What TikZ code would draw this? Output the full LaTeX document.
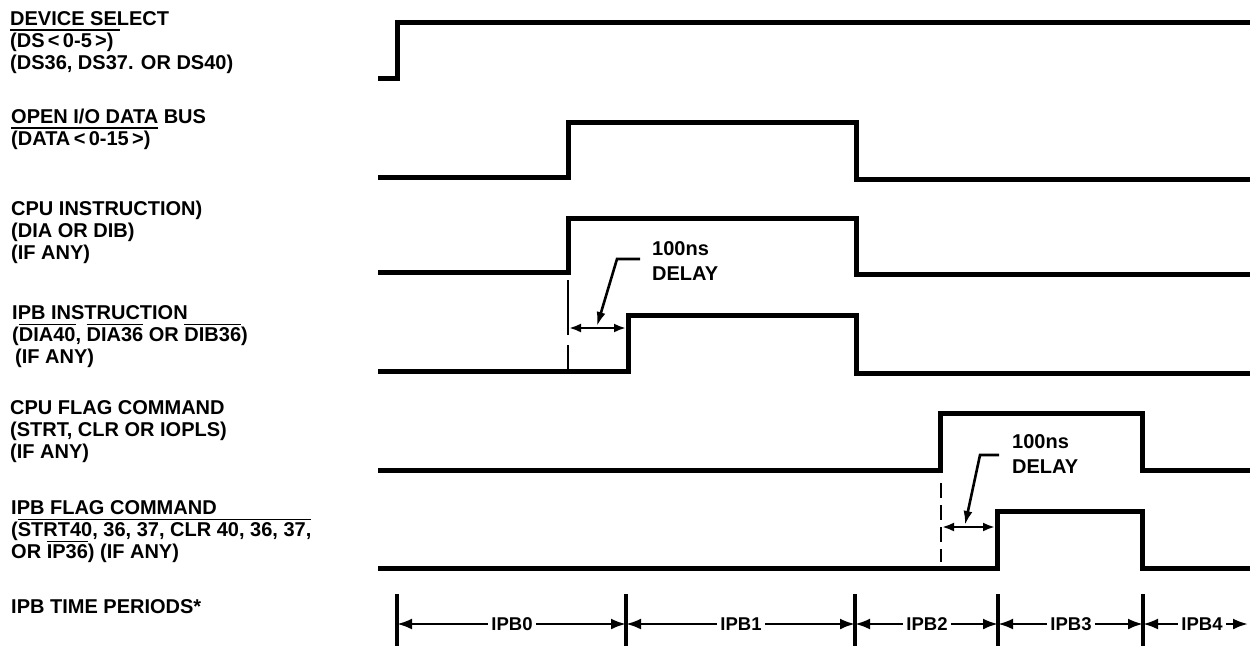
\documentclass[tikz,border=0pt]{standalone}
\usepackage{fontspec}
\setmainfont{Liberation Sans}
\usetikzlibrary{arrows.meta}
\newcommand\ovl[1]{\leavevmode\vbox{\hrule height 1.7pt\kern 1.6pt\hbox{#1}}}
\begin{document}
\begin{tikzpicture}[x=1pt,y=-1pt,
  lbl/.style={anchor=base west, inner sep=0pt, align=left,
    font=\fontsize{20}{22}\selectfont\bfseries},
  dlbl/.style={anchor=base west, inner sep=0pt, align=left,
    font=\fontsize{20}{24.5}\selectfont\bfseries},
  plbl/.style={inner sep=3pt, font=\fontsize{18.5}{20}\selectfont\bfseries},
  sig/.style={line width=5pt},
  tick/.style={line width=3.2pt},
  dsh1/.style={line width=2.6pt, dash pattern=on 55pt off 10pt},
  dsh2/.style={line width=2.6pt, dash pattern=on 15pt off 7pt},
  darr/.style={line width=2.4pt, {Latex[length=12pt,width=9pt]}-{Latex[length=12pt,width=9pt]}},
  lead/.style={line width=2.6pt, -{Latex[length=14pt,width=9pt]}},
  tarrL/.style={line width=2.6pt, {Latex[length=15pt,width=11pt]}-},
  tarrR/.style={line width=2.6pt, -{Latex[length=15pt,width=11pt]}}]
\useasboundingbox (0,0) rectangle (1250,646);

% ---------- labels (positioned at the baseline of their last line) ----------
\node[lbl] (L1) at (10,69) {DEVICE SELECT\\\ovl{(DS\,<\,0-5\,>)\hspace{6pt}}\\(DS36, DS37. OR DS40)};
\node[lbl] (L2) at (11,145) {OPEN I/O DATA BUS\\\ovl{(DATA\,<\,0-15\,>)\hspace{8pt}}};
\node[lbl] (L3) at (11,259) {CPU INSTRUCTION)\\(DIA OR DIB)\\(IF ANY)};
\node[lbl] (L4) at (12,363) {IPB INSTRUCTION\\(\ovl{DIA40}, \ovl{DIA36} OR \ovl{DIB36})\\\hspace{3pt}(IF ANY)};
\node[lbl] (L5) at (10,458) {CPU FLAG COMMAND\\(STRT, CLR OR IOPLS)\\(IF ANY)};
\node[lbl] (L6) at (11,558) {IPB FLAG COMMAND\\(\ovl{STRT40, 36, 37, CLR 40, 36, 37,}\\OR \ovl{IP36}) (IF ANY)};
\node[lbl] (L7) at (11,613) {IPB TIME PERIODS*};

% ---------- waveforms ----------
\draw[sig] (378,78) -- (397,78) -- (397,22) -- (1250,22);
\draw[sig] (378,177) -- (568,177) -- (568,122) -- (856,122) -- (856,179) -- (1250,179);
\draw[sig] (378,272) -- (568,272) -- (568,218) -- (856,218) -- (856,274) -- (1250,274);
\draw[sig] (378,371) -- (628,371) -- (628,315) -- (856,315) -- (856,373) -- (1250,373);
\draw[sig] (378,470) -- (940,470) -- (940,413) -- (1142,413) -- (1142,470) -- (1250,470);
\draw[sig] (378,568) -- (997,568) -- (997,511) -- (1142,511) -- (1142,568) -- (1250,568);

% ---------- delay 1 ----------
\draw[dsh1] (568,280) -- (568,372);
\coordinate (d1a) at (569,328);
\coordinate (d1b) at (626,328);
\draw[darr] (d1a) -- (d1b);
\node[dlbl] (D1) at (652,280) {100ns\\DELAY};
\coordinate (l1a) at (640,259);
\coordinate (l1b) at (617,259);
\coordinate (l1c) at (597,326);
\draw[lead] (l1a) -- (l1b) -- (l1c);

% ---------- delay 2 ----------
\draw[dsh2] (941,483) -- (941,562);
\coordinate (d2a) at (942,527);
\coordinate (d2b) at (995,527);
\draw[darr] (d2a) -- (d2b);
\node[dlbl] (D2) at (1012,473) {100ns\\DELAY};
\coordinate (l2a) at (999,455);
\coordinate (l2b) at (980,455);
\coordinate (l2c) at (965,525);
\draw[lead] (l2a) -- (l2b) -- (l2c);

% ---------- IPB time periods ----------
\foreach \x in {397,626,855,998,1143} \draw[tick] (\x,594) -- (\x,646);
\coordinate (k0) at (397,624);
\coordinate (k1) at (626,624);
\coordinate (k2) at (855,624);
\coordinate (k3) at (998,624);
\coordinate (k4) at (1143,624);
\coordinate (k5) at (1248,624);
\node[plbl] (P0) at (512,624) {IPB0};
\node[plbl] (P1) at (741,624) {IPB1};
\node[plbl] (P2) at (927,624) {IPB2};
\node[plbl] (P3) at (1071,624) {IPB3};
\node[plbl] (P4) at (1202,624) {IPB4};
\draw[tarrL] (k0) -- (P0.west);  \draw[tarrR] (P0.east) -- (k1);
\draw[tarrL] (k1) -- (P1.west);  \draw[tarrR] (P1.east) -- (k2);
\draw[tarrL] (k2) -- (P2.west);  \draw[tarrR] (P2.east) -- (k3);
\draw[tarrL] (k3) -- (P3.west);  \draw[tarrR] (P3.east) -- (k4);
\draw[tarrL] (k4) -- (P4.west);  \draw[tarrR] (P4.east) -- (k5);
\end{tikzpicture}
\end{document}
